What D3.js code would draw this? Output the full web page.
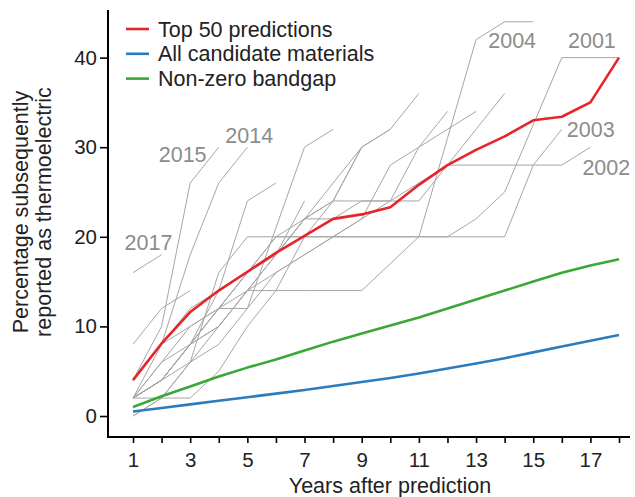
<!DOCTYPE html>
<html>
<head>
<meta charset="utf-8">
<script src="https://cdn.jsdelivr.net/npm/d3@7"></script>
<style>
  html, body { margin: 0; padding: 0; background: #fff; }
  svg { display: block; font-family: "Liberation Sans", Arial, Helvetica, sans-serif; }
</style>
</head>
<body>
<svg id="chart" width="635" height="497"></svg>
<script>
// Years after prediction
const years = d3.range(1, 19);

// Summary series (percentage later reported as thermoelectric)
const top50 = [4.0, 8.1, 11.6, 14.0, 16.1, 18.2, 20.1, 22.0, 22.5, 23.3, 25.8, 28.0, 29.7, 31.2, 33.0, 33.4, 35.0, 40.0];
const allCandidates = [0.5, 0.9, 1.3, 1.7, 2.1, 2.5, 2.9, 3.35, 3.8, 4.25, 4.75, 5.3, 5.85, 6.45, 7.1, 7.75, 8.4, 9.05];
const nonZeroGap = [1.0, 2.2, 3.3, 4.4, 5.4, 6.3, 7.3, 8.3, 9.2, 10.1, 11.0, 12.0, 13.0, 14.0, 15.0, 16.0, 16.8, 17.5];

// Individual prediction years (each tracked from year 1 onwards)
const cohortYears = [2001, 2002, 2003, 2004, 2005, 2006, 2007, 2008, 2009, 2010, 2011, 2012, 2013, 2014, 2015, 2016, 2017];
const cohortValues = [
  [2, 4, 8, 12, 16, 20, 20, 20, 20, 20, 20, 20, 22, 25, 32.5, 40, 40, 40],
  [2, 2, 2, 5, 10, 14, 20, 24, 24, 24, 24, 28, 28, 28, 28, 28, 30],
  [0, 2, 6, 16, 20, 20, 20, 20, 20, 20, 20, 20, 20, 20, 28, 32],
  [2, 4, 8, 12, 14, 14, 14, 14, 14, 17, 20, 31, 42, 44, 44],
  [4, 8, 10, 12, 12, 16, 18, 20, 22, 24, 26, 28, 32, 36],
  [2, 6, 8, 10, 14, 16, 18, 20, 22, 28, 30, 32, 34],
  [2, 4, 8, 12, 16, 18, 22, 22, 24, 24, 30, 34],
  [4, 8, 12, 14, 16, 20, 22, 24, 30, 32, 36],
  [2, 6, 10, 12, 16, 18, 22, 24, 30, 32],
  [2, 4, 8, 10, 14, 18, 22, 26, 30],
  [2, 4, 6, 8, 12, 21, 30, 32],
  [0, 2, 6, 10, 14, 18, 24],
  [2, 4, 8, 14, 24, 26],
  [2, 8, 18, 26, 30],
  [4, 10, 26, 30],
  [8, 12, 14],
  [16, 18]
];
const labelledCohorts = [2001, 2002, 2003, 2004, 2014, 2015, 2017];

const legendNames = ["Top 50 predictions", "All candidate materials", "Non-zero bandgap"];
const legendColors = ["#e6242a", "#2b7bbf", "#38a836"];

const yTicks = [0, 10, 20, 30, 40];
const xTicks = years;

const svg = d3.select("#chart");

const x = d3.scaleLinear().domain([1, 18]).range([133, 619]);
const y = d3.scaleLinear().domain([0, 40]).range([416, 57.6]);

const axisX = 108, axisY = 437;

const line = d3.line()
  .x((d, i) => x(years[i]))
  .y(d => y(d));

// Cohort lines
const cohorts = svg.append("g").attr("fill", "none")
  .attr("stroke", "#a6a6a6").attr("stroke-width", 1.0);
cohortValues.forEach(vals => {
  cohorts.append("path").attr("d", line(vals));
});

// Cohort labels, offset from the last point of each labelled line
const labelOffsets = {
  2001: [-51, -9.6],
  2002: [-8, 28],
  2003: [5, 8],
  2004: [-45, 26],
  2014: [-22, -4],
  2015: [-60, 15],
  2017: [-37, -5]
};
const labels = svg.append("g").attr("fill", "#8c8c8c").attr("font-size", 21.5);
labelledCohorts.forEach(yr => {
  const vals = cohortValues[cohortYears.indexOf(yr)];
  const n = vals.length;
  const [dx, dy] = labelOffsets[yr];
  labels.append("text")
    .attr("x", x(years[n - 1]) + dx)
    .attr("y", y(vals[n - 1]) + dy)
    .text(yr);
});

// Summary lines
const series = [top50, allCandidates, nonZeroGap];
[1, 2, 0].forEach(k => {
  svg.append("path")
    .attr("d", line(series[k]))
    .attr("fill", "none")
    .attr("stroke", legendColors[k])
    .attr("stroke-width", 2.6)
    .attr("stroke-linejoin", "round");
});

// Axes
const gx = svg.append("g").attr("transform", `translate(0,${axisY})`)
  .call(d3.axisBottom(x).tickValues(xTicks).tickSize(6).tickPadding(9)
    .tickFormat(d => d % 2 === 1 ? d : ""));
gx.select(".domain").remove();
gx.selectAll(".tick line").attr("stroke", "#000").attr("stroke-width", 1.6);
gx.selectAll(".tick text").attr("font-size", 20.5).attr("fill", "#222")
  .attr("font-family", "Liberation Sans, Arial, sans-serif");

const gy = svg.append("g").attr("transform", `translate(${axisX},0)`)
  .call(d3.axisLeft(y).tickValues(yTicks).tickSize(8).tickPadding(3));
gy.select(".domain").remove();
gy.selectAll(".tick line").attr("stroke", "#000").attr("stroke-width", 1.6);
gy.selectAll(".tick text").attr("font-size", 20.5).attr("fill", "#222")
  .attr("font-family", "Liberation Sans, Arial, sans-serif");

svg.append("path")
  .attr("d", `M${axisX},10 V${axisY} H630`)
  .attr("fill", "none").attr("stroke", "#000").attr("stroke-width", 2);

// Axis titles
svg.append("text")
  .attr("x", 390).attr("y", 493)
  .attr("text-anchor", "middle").attr("font-size", 21.5).attr("fill", "#222")
  .text("Years after prediction");

const yTitle = svg.append("g").attr("transform", "translate(0,212) rotate(-90)")
  .attr("font-size", 21.5).attr("fill", "#222").attr("text-anchor", "middle");
yTitle.append("text").attr("x", 0).attr("y", 28).text("Percentage subsequently");
yTitle.append("text").attr("x", 0).attr("y", 51).text("reported as thermoelectric");

// Legend
const legend = svg.append("g");
legendNames.forEach((name, i) => {
  const ly = 29 + i * 24.8;
  legend.append("line")
    .attr("x1", 126).attr("x2", 149).attr("y1", ly).attr("y2", ly)
    .attr("stroke", legendColors[i]).attr("stroke-width", 2.6);
  legend.append("text")
    .attr("x", 158).attr("y", ly + 7.5)
    .attr("font-size", 21.5).attr("fill", "#222")
    .text(name);
});
</script>
</body>
</html>
